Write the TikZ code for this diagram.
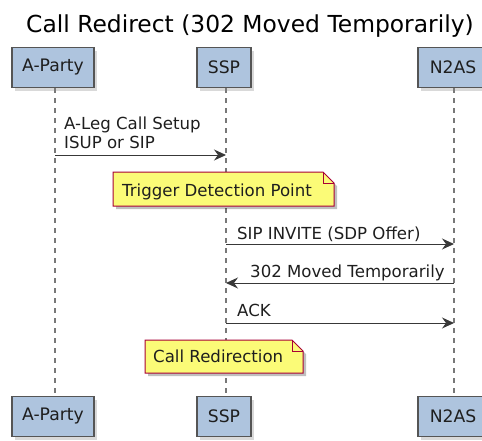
\documentclass[tikz,border=0pt]{standalone}
\usepackage{fontspec}
\setmainfont{DejaVu Sans}
\usetikzlibrary{arrows.meta,shadows,backgrounds}
\definecolor{partfill}{RGB}{174,196,222}
\definecolor{partdraw}{RGB}{85,85,85}
\definecolor{notefill}{RGB}{251,251,119}
\definecolor{notedraw}{RGB}{168,0,54}
\definecolor{lifecol}{RGB}{120,120,120}
\definecolor{arrcol}{RGB}{56,56,56}
\definecolor{txtcol}{RGB}{30,30,30}
\newcommand\dgmsgfont{\fontsize{16.6}{19.5}\selectfont}
\newcommand\dgpartfont{\fontsize{17.2}{20}\selectfont}
\newcommand\dgtitlefont{\fontsize{23.4}{27}\selectfont}
\tikzset{
  part/.style={draw=partdraw, fill=partfill, line width=1.3pt, minimum height=40pt,
    inner sep=0pt, font=\dgpartfont, text=txtcol,
    drop shadow={shadow xshift=3pt, shadow yshift=-3pt, opacity=0.3}},
  life/.style={draw=lifecol, line width=2pt, dash pattern=on 5pt off 5pt},
  msg/.style={draw=arrcol, line width=1pt, -{Stealth[length=12pt,width=11pt,inset=4pt]}},
  lbl/.style={font=\dgmsgfont, text=txtcol, inner sep=0pt, anchor=base west},
  notebox/.style={fill=notefill, draw=notedraw, line width=1pt},
  noteshadow/.style={fill=black, opacity=0.25},
}
\begin{document}
\begin{tikzpicture}[x=1pt,y=-1pt]
\useasboundingbox (0,0) rectangle (482,440);
% title
\node[font=\dgtitlefont, text=black, inner sep=0pt, anchor=base] (title) at (250,32) {Call Redirect (302 Moved Temporarily)};
% participants
\node[part, minimum width=82pt] (at) at (53,67.5) {A-Party};
\node[part, minimum width=54pt] (st) at (224,67.5) {SSP};
\node[part, minimum width=70pt] (nt) at (453,67.5) {N2AS};
\node[part, minimum width=82pt] (ab) at (53,416.5) {A-Party};
\node[part, minimum width=54pt] (sb) at (224,416.5) {SSP};
\node[part, minimum width=70pt] (nb) at (453,416.5) {N2AS};
% lifelines
\begin{scope}[on background layer]
\draw[life] ([xshift=2pt]at.south) -- ([xshift=2pt]ab.north);
\draw[life] ([xshift=2pt]st.south) -- ([xshift=2pt]sb.north);
\draw[life] ([xshift=1pt]nt.south) -- ([xshift=1pt]nb.north);
\end{scope}
% message end points
\coordinate (m1s) at (55,155);  \coordinate (m1e) at (226,155);
\coordinate (m2s) at (226,244); \coordinate (m2e) at (454,244);
\coordinate (m3s) at (454,283); \coordinate (m3e) at (226,283);
\coordinate (m4s) at (226,323); \coordinate (m4e) at (454,323);
% note 1
\begin{scope}[shift={(3,3)}]
\fill[noteshadow] (113,172) -- (323,172) -- (334,183) -- (334,206) -- (113,206) -- cycle;
\end{scope}
\path[notebox] (113,172) -- (323,172) -- (334,183) -- (334,206) -- (113,206) -- cycle;
\draw[draw=notedraw, line width=1pt] (323,172) -- (323,183) -- (334,183);
\node[lbl] (n1) at (122,196) {Trigger Detection Point};
% messages
\draw[msg] (m1s) -- (m1e);
\node[lbl] (l1a) at (64,129) {A-Leg Call Setup};
\node[lbl] (l1b) at (64,148) {ISUP or SIP};
\draw[msg] (m2s) -- (m2e);
\node[lbl] (l2) at (237,239) {SIP INVITE (SDP Offer)};
\draw[msg] (m3s) -- (m3e);
\node[lbl] (l3) at (250,277) {302 Moved Temporarily};
\draw[msg] (m4s) -- (m4e);
\node[lbl] (l4) at (237,316) {ACK};
% note 2
\begin{scope}[shift={(3,3)}]
\fill[noteshadow] (145,340) -- (292,340) -- (303,351) -- (303,373) -- (145,373) -- cycle;
\end{scope}
\path[notebox] (145,340) -- (292,340) -- (303,351) -- (303,373) -- (145,373) -- cycle;
\draw[draw=notedraw, line width=1pt] (292,340) -- (292,351) -- (303,351);
\node[lbl] (n2) at (153,362) {Call Redirection};
\end{tikzpicture}
\end{document}
